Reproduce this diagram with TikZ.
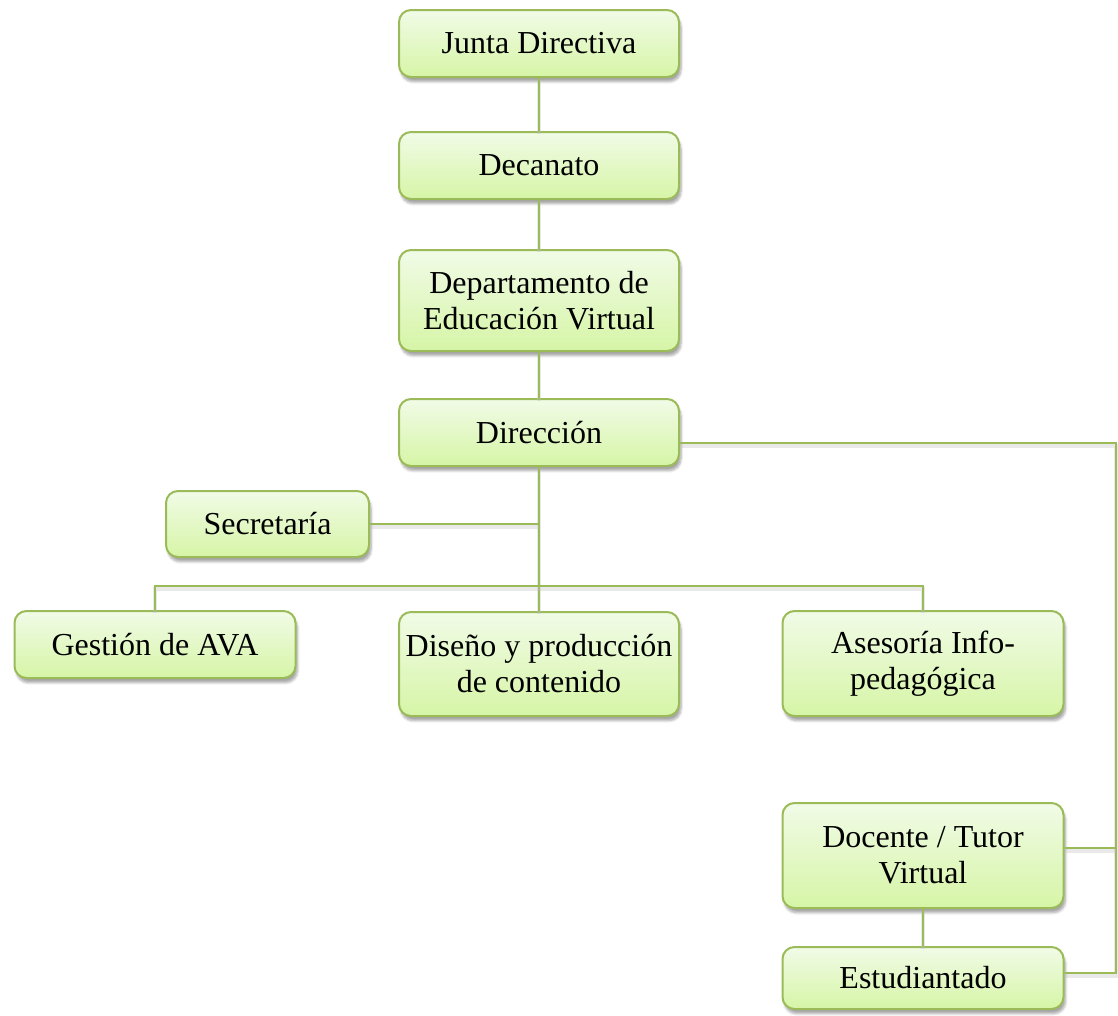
\documentclass[tikz,border=0pt]{standalone}
\usepackage{fontspec}
\setmainfont{Liberation Serif}
\usetikzlibrary{shadows.blur}
\definecolor{olive}{HTML}{9BBB59}
\definecolor{boxtop}{HTML}{F1FBE7}
\definecolor{boxbot}{HTML}{D6F5A6}
\tikzset{
  orgbox/.style={draw=olive, line width=1.5pt, rounded corners=9pt,
    top color=boxtop, bottom color=boxbot, align=center, inner sep=2pt,
    font=\fontsize{24}{27}\selectfont,
    blur shadow={shadow xshift=1.5pt, shadow yshift=-3.5pt, shadow blur steps=6,
      shadow blur extra rounding=2pt, shadow opacity=35}},
  link/.style={draw=olive, line width=1.9pt,
    preaction={draw=black!25, opacity=0.35, line width=3pt, transform canvas={yshift=-2.5pt}}}
}
\begin{document}
\begin{tikzpicture}[x=0.75pt, y=-0.75pt]
  \useasboundingbox (0,0) rectangle (1118,1015);

  % hierarchy boxes
  \node[orgbox, minimum width=210pt, minimum height=50.25pt] (jd)  at (539,43.5)  {Junta Directiva};
  \node[orgbox, minimum width=210pt, minimum height=50.25pt] (dec) at (539,165.5) {Decanato};
  \node[orgbox, minimum width=210pt, minimum height=75.75pt] (dep) at (539,300.5) {Departamento de\\Educación Virtual};
  \node[orgbox, minimum width=210pt, minimum height=50.25pt] (dir) at (539,432.5) {Dirección};
  \node[orgbox, minimum width=152.25pt, minimum height=49.5pt] (sec) at (267.5,524) {Secretaría};
  \node[orgbox, minimum width=210.75pt, minimum height=50.25pt] (ges) at (155,644.5) {Gestión de AVA};
  \node[orgbox, minimum width=210pt, minimum height=78pt] (dis) at (539,664) {Diseño y producción\\de contenido};
  \node[orgbox, minimum width=210.75pt, minimum height=78.75pt] (ase) at (923,663.5) {Asesoría Info-\\pedagógica};
  \node[orgbox, minimum width=210.75pt, minimum height=78.75pt] (doc) at (923,855.5) {Docente / Tutor\\Virtual};
  \node[orgbox, minimum width=210.75pt, minimum height=46.5pt] (est) at (923,978) {Estudiantado};

  % junction points
  \coordinate (bus) at (539,586);
  \coordinate (r1) at (1116,443);
  \coordinate (r2) at (1116,848);
  \coordinate (r3) at (1116,973);

  % connectors
  \path[link] (jd.south) -- (dec.north);
  \path[link] (dec.south) -- (dep.north);
  \path[link] (dep.south) -- (dir.north);
  \path[link] (dir.south) -- (dis.north);
  \path[link] (sec.east) -- (sec.east -| dir.south);
  \path[link] (ges.north) |- (bus) -| (ase.north);
  \path[link] (r1 -| dir.east) -- (r1) -- (r3) -- (r3 -| est.east);
  \path[link] (r2 -| doc.east) -- (r2);
  \path[link] (doc.south) -- (est.north);
\end{tikzpicture}
\end{document}
